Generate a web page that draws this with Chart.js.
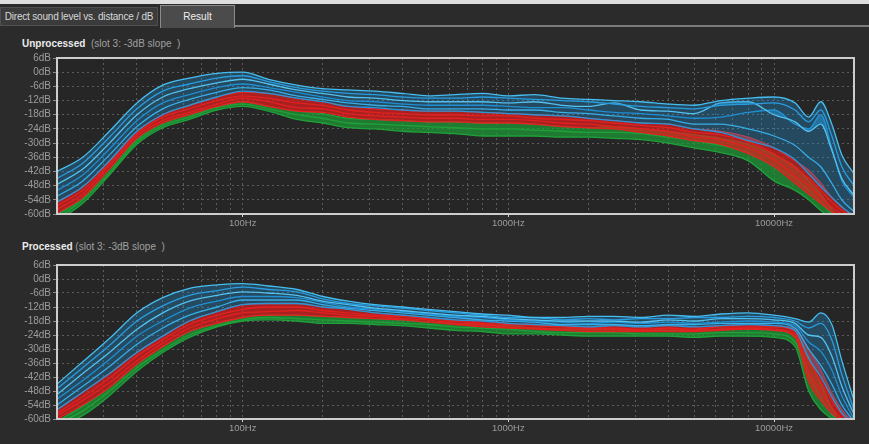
<!DOCTYPE html>
<html>
<head>
<meta charset="utf-8">
<script src="https://cdn.jsdelivr.net/npm/chart.js@4.4.1/dist/chart.umd.min.js"></script>
<style>
    body { margin: 0; width: 869px; height: 444px; background: #2b2b2b; position: relative; overflow: hidden; font-family: "Liberation Sans", Arial, sans-serif; }
    .strip { position: absolute; left: 0; top: 0; width: 869px; height: 4px; background: #dedede; }
    .tab { position: absolute; font-size: 10px; box-sizing: border-box; text-align: center; }
    .tab1 { left: 0; top: 7px; width: 158px; height: 19px; line-height: 18px; background: #3b3b3b; color: #d8d8d8; border: 1px solid #505050; letter-spacing: -0.2px; }
    .tab2 { left: 160px; top: 5px; width: 75px; height: 23px; line-height: 21px; background: #4b4b4b; color: #f0f0f0; border: 1px solid #8a8a8a; border-bottom: none; }
    .tabline { position: absolute; left: 235px; top: 25px; width: 634px; height: 2px; background: #7c7c7c; }
    .title { position: absolute; left: 22px; font-size: 10px; color: #a0a0a0; }
    .title b { color: #ececec; }
    .box { position: absolute; left: 0; width: 869px; }
</style>
</head>
<body>
<div class="strip"></div>
<div class="tab tab1">Direct sound level vs. distance / dB</div>
<div class="tab tab2">Result</div>
<div class="tabline"></div>

<div class="title" style="top: 38px;"><b>Unprocessed</b>&nbsp; (slot 3: -3dB slope&nbsp; )</div>
<div class="box" style="top: 50px; height: 180px;"><canvas id="chartTop"></canvas></div>

<div class="title" style="top: 241px;"><b>Processed</b> (slot 3: -3dB slope&nbsp; )</div>
<div class="box" style="top: 257px; height: 178px;"><canvas id="chartBottom"></canvas></div>

<script>
// frequency points (Hz) shared by every curve
const freqsHz = [20, 25, 31.5, 40, 50, 63, 80, 100, 125, 160, 200, 250, 315, 400, 500, 630, 800, 1000, 1250, 1600, 2000, 2500, 3150, 4000, 5000, 6300, 8000, 10000, 12000, 13500, 15000, 16500, 18000, 20000];

const yTicksDb = [6, 0, -6, -12, -18, -24, -30, -36, -42, -48, -54, -60];
const xGridHz = [20, 30, 40, 50, 60, 70, 80, 90, 100, 200, 300, 400, 500, 600, 700, 800, 900, 1000, 2000, 3000, 4000, 5000, 6000, 7000, 8000, 9000, 10000, 20000];
const xLabelHz = [100, 1000, 10000];

// Unprocessed (top)
const unprocessedBlue = [
    [-42, -36, -25, -13, -5.5, -2.5, -0.5, 0, -3, -5.5, -7, -7.5, -8, -9, -10, -9.5, -9, -10, -9.5, -11, -11.5, -12, -12.5, -13.5, -14, -12, -11, -10.5, -13, -19, -12.5, -22, -35, -43],
    [-45, -38.5, -27.5, -15.5, -8, -5, -2.5, -1.5, -4, -6.5, -8, -9, -9.5, -10.5, -11, -11, -10.5, -11, -11.5, -12, -12.5, -13.5, -14.5, -15, -15.5, -14, -13.5, -13, -16, -21, -16, -27, -40, -48],
    [-47.5, -41, -30, -18, -10.5, -7, -4.5, -3, -5, -7.5, -9, -10.5, -11, -12, -12.5, -12.5, -12.5, -13, -12.5, -14, -14.5, -13, -16, -16.5, -17.5, -13, -12.5, -18, -21, -25, -22, -33, -45, -52],
    [-50, -43.5, -32.5, -20.5, -13, -9.5, -6.5, -5, -6.5, -8.5, -10.5, -12, -12.5, -13.5, -14, -14, -14, -14.5, -15, -15, -16, -17, -17.5, -18.5, -19.5, -19, -17, -16, -22, -24, -18, -32, -46, -53],
    [-52.5, -46, -35, -23, -15.5, -11.5, -8.5, -6.5, -7.5, -10, -11.5, -13, -14, -14.5, -15.5, -15.5, -15.5, -16, -16, -17, -17.5, -18.5, -19.5, -20, -22, -22, -24, -27, -31, -36, -40, -47, -54, -59],
    [-55, -48.5, -37.5, -25, -18, -14, -10.5, -8, -9, -11, -12.5, -14.5, -15, -16, -16.5, -16.5, -17, -17.5, -18, -18.5, -19.5, -20.5, -21.5, -22, -24, -25.5, -29, -32, -37, -43, -48.5, -53, -57, -61]
];
const unprocessedRed = [
    [-55, -48.5, -37.5, -25, -18, -14, -10.5, -8.5, -9, -11, -12.5, -14.5, -15.5, -16, -16.5, -16.5, -17, -17.5, -18, -18.5, -19.5, -20.5, -21.5, -22, -24, -25, -27.5, -32, -37.5, -41.5, -47, -53, -57, -61],
    [-56.5, -50, -38.5, -26, -19, -15.5, -12, -10, -11, -13, -14, -16, -17, -17.5, -18, -18, -18.5, -18.5, -19.5, -20, -20.5, -21.5, -22.5, -23.5, -25.5, -26.5, -29.5, -34.5, -40.5, -45, -50, -55, -58.5, -62],
    [-58, -51.5, -39.5, -27, -20.5, -17, -13.5, -11, -12.5, -15, -15.5, -17.5, -18.5, -19, -19.5, -19.5, -20, -20, -20.5, -21.5, -22, -23, -24, -25, -27.5, -28.5, -32, -37, -44, -48, -53, -57, -60, -63],
    [-59.7, -53, -41, -28, -21.5, -18, -14.5, -12.5, -14.5, -16.5, -17, -19, -20, -20.5, -21, -21, -21.5, -21.5, -22, -23, -23.5, -24, -25.5, -27, -29, -30.5, -34.5, -40, -47, -51.5, -55.5, -59, -61, -64]
];
const unprocessedGreen = [
    [-60.5, -53, -41, -28.5, -21.5, -18, -14.5, -12.5, -14.5, -16.5, -17.5, -19.5, -20, -20.5, -21, -21, -21.5, -21.5, -22, -23, -23.5, -23, -24, -25, -26.5, -28, -30.5, -35, -40, -46, -51.5, -58, -62, -64],
    [-62, -54, -42.5, -29.5, -22.5, -19, -15, -13.5, -15.5, -18, -19.5, -21.5, -22, -22.5, -23, -23.5, -24, -24, -24.5, -25, -25.5, -25.5, -26, -27.5, -29, -31, -34, -40, -45, -50, -55, -60, -63, -65],
    [-63, -55.5, -43.5, -30.5, -23.5, -20, -16, -14.5, -16.5, -20, -21.5, -23.5, -24, -25, -25.5, -26, -27, -27, -27, -27.5, -27.5, -28, -28.5, -30, -32, -34, -37.5, -46, -50, -54, -58.5, -62, -64, -66]
];

// Processed (bottom)
const processedBlue = [
    [-45, -35.5, -25.5, -14.5, -8, -4, -2.5, -2, -3, -4.5, -7.5, -9.5, -11, -12, -13, -14, -15, -15.5, -16.5, -16.5, -16, -16, -16.5, -15.5, -16, -15, -14.5, -15.5, -17, -18.5, -14.5, -19.5, -35, -52],
    [-47, -38, -28.5, -18, -11.5, -7, -5, -3.5, -4.5, -5.5, -8.5, -10.5, -11.5, -12.5, -13.5, -14.5, -15.5, -16.5, -16.5, -17.5, -17, -17.5, -17, -17, -16.5, -16.5, -16, -16.5, -18, -21, -19, -26, -41, -56],
    [-49.5, -40.5, -31.5, -21.5, -14.5, -9.5, -7, -5.5, -6, -7, -9.5, -11, -12.5, -13.5, -14.5, -15.5, -16, -17, -17.5, -18, -18, -18, -18.5, -17.5, -18, -17, -17, -17.5, -19, -24, -25, -33, -46, -58],
    [-51.5, -43.5, -34.5, -24.5, -18, -12.5, -9.5, -7.5, -7.5, -8, -10, -12, -13, -14, -15, -16, -16.5, -17.5, -18, -18.5, -19, -18.5, -19, -18.5, -19, -18.5, -18, -18.5, -20, -27, -31, -39, -50, -60],
    [-54, -46, -37.5, -28, -21, -15.5, -12, -9, -9, -9, -11, -12.5, -13.5, -14.5, -15.5, -16.5, -17.5, -18, -18.5, -19.5, -19.5, -19.5, -20, -19.5, -19.5, -19, -19, -19, -21, -30, -37, -45, -54, -61],
    [-56, -48.5, -40.5, -31.5, -24.5, -18, -14, -11, -10.5, -10.5, -12, -13, -14.5, -15.5, -16.5, -17.5, -18, -19, -19.5, -20, -20.5, -20, -20.5, -20, -20.5, -20, -19.5, -20, -22, -34, -42, -50.5, -57.5, -62]
];
const processedRed = [
    [-56, -48.5, -40.5, -31.5, -24.5, -18, -14, -11, -10.5, -10.5, -12, -13, -14.5, -15.5, -16.5, -17.5, -18, -19, -19.5, -20, -20.5, -20, -20.5, -20, -20.5, -20, -19.5, -20, -21.5, -30, -39, -49, -56, -62],
    [-57.5, -50.5, -42.5, -33, -26, -19.5, -15.5, -13, -12, -12, -13.5, -14.5, -15.5, -16, -17, -18, -19, -19.5, -20, -20.5, -21, -21, -21.5, -21, -21.5, -20.5, -20.5, -20.5, -22.5, -35, -44, -52, -58, -63],
    [-58.5, -52, -44.5, -35, -27.5, -21, -17, -14.5, -14, -13.5, -14.5, -15.5, -16, -17, -17.5, -19, -19.5, -20.5, -21, -21.5, -21.5, -21.5, -22, -21.5, -22, -21.5, -21, -21.5, -23.5, -40, -48, -55, -60, -64],
    [-60, -54, -46.5, -36.5, -29, -22.5, -19, -16.5, -15.5, -15.5, -16, -16.5, -17, -17.5, -18.5, -19.5, -20.5, -21, -21.5, -22, -22.5, -22.5, -22.5, -22.5, -22.5, -22, -21.5, -22, -25, -44, -52, -57.5, -61, -65]
];
const processedGreen = [
    [-61, -54.5, -46.5, -36.5, -29, -22.5, -19, -16.5, -15.5, -15.5, -16, -16.5, -17, -17.5, -18.5, -19, -19.5, -20, -21, -21.5, -21.5, -21.5, -22, -22, -22, -21.5, -21.5, -22, -24.5, -33.5, -45, -55, -62, -64],
    [-62, -56.5, -48, -38, -30.5, -24, -20, -17.5, -16.5, -17, -17.5, -18, -18.5, -19, -19.5, -20.5, -21, -21.5, -22.5, -23, -23, -23, -23.5, -23.5, -23.5, -23, -23, -23.5, -27, -41, -51, -58, -63, -65],
    [-63, -58.5, -50, -39.5, -31.5, -25, -20.5, -18, -17.5, -18, -19, -19, -19.5, -20, -21, -22, -22.5, -23.5, -23.5, -24, -24.5, -24.5, -24.5, -24.5, -25, -24.5, -24.5, -25, -29, -48, -56, -60, -64, -66]
];

const blueLines = ['#45bdf0', '#2a9ee0', '#5ccaf5', '#1f8ed3', '#3bb2ea', '#2996d8'];

Chart.defaults.font.family = '"Liberation Sans", Arial, sans-serif';

const framePlugin = {
    id: 'frame',
    beforeDraw(chart) {
        const { ctx, chartArea: a } = chart;
        ctx.save();
        ctx.fillStyle = '#262626';
        ctx.fillRect(a.left, a.top, a.right - a.left, a.bottom - a.top);
        ctx.restore();
    },
    afterDraw(chart) {
        const { ctx, chartArea: a } = chart;
        ctx.save();
        ctx.strokeStyle = '#cdcdcd';
        ctx.lineWidth = 2;
        ctx.strokeRect(a.left, a.top, a.right - a.left, a.bottom - a.top);
        ctx.restore();
    }
};

function group(lines, lineColor, fillColor) {
    return lines.map((vals, i) => ({
        data: freqsHz.map((f, j) => ({ x: f, y: vals[j] })),
        borderColor: Array.isArray(lineColor) ? lineColor[i % lineColor.length] : lineColor,
        backgroundColor: fillColor,
        borderWidth: 1.3,
        pointRadius: 0,
        cubicInterpolationMode: 'monotone',
        fill: i < lines.length - 1 ? '+1' : false
    }));
}

function makeChart(id, blue, red, green) {
    const ctx = document.getElementById(id).getContext('2d');
    return new Chart(ctx, {
        type: 'line',
        data: {
            datasets: [
                ...group(blue, blueLines, 'rgba(38, 150, 215, 0.32)'),
                ...group(red, '#e62222', 'rgba(225, 30, 30, 0.7)'),
                ...group(green, '#20a43a', 'rgba(30, 160, 55, 0.7)')
            ]
        },
        options: {
            responsive: true,
            maintainAspectRatio: false,
            animation: false,
            layout: { padding: { top: 6, right: 15, left: 0, bottom: 0 } },
            plugins: { legend: { display: false }, tooltip: { enabled: false } },
            scales: {
                x: {
                    type: 'logarithmic',
                    min: 20,
                    max: 20000,
                    afterBuildTicks: scale => { scale.ticks = xGridHz.map(v => ({ value: v })); },
                    afterFit: scale => { scale.height = 16; },
                    border: { display: false, dash: [2, 3] },
                    grid: {
                        color: '#5c5c5c',
                        tickLength: 3,
                        tickColor: c => (c.tick && xLabelHz.includes(c.tick.value)) ? '#d0d0d0' : 'rgba(0,0,0,0)'
                    },
                    ticks: {
                        autoSkip: false,
                        maxRotation: 0,
                        padding: 1,
                        color: '#9c9c9c',
                        font: { size: 9.5 },
                        callback: value => xLabelHz.includes(value) ? value + 'Hz' : ''
                    }
                },
                y: {
                    min: -60,
                    max: 6,
                    afterBuildTicks: scale => { scale.ticks = yTicksDb.map(v => ({ value: v })); },
                    afterFit: scale => { scale.width = 57; },
                    border: { display: false, dash: [2, 3] },
                    grid: { color: '#5c5c5c', tickLength: 4, tickColor: '#8a8a8a' },
                    ticks: {
                        autoSkip: false,
                        padding: 2,
                        color: '#9c9c9c',
                        font: { size: 10 },
                        callback: value => value + 'dB'
                    }
                }
            }
        },
        plugins: [framePlugin]
    });
}

document.addEventListener('DOMContentLoaded', function () {
    makeChart('chartTop', unprocessedBlue, unprocessedRed, unprocessedGreen);
    makeChart('chartBottom', processedBlue, processedRed, processedGreen);
});
</script>
</body>
</html>
